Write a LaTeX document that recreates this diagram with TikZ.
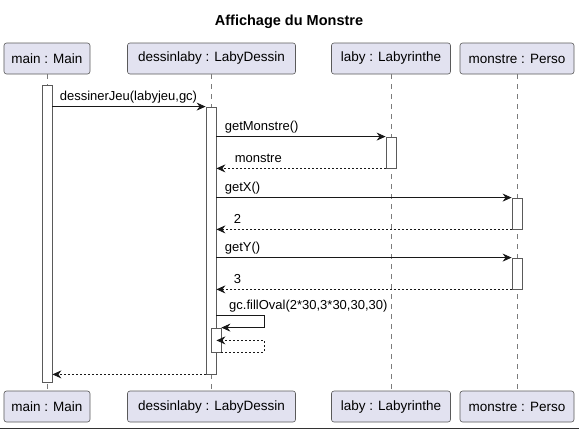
\documentclass[tikz,border=0pt]{standalone}
\usepackage{fontspec}
\setmainfont{Liberation Sans}
\usepackage{tikz}
\usetikzlibrary{arrows.meta}

\definecolor{partfill}{HTML}{E2E2F0}
\definecolor{partdraw}{HTML}{5A5A5A}
\definecolor{lineclr}{HTML}{181818}

\tikzset{
  part/.style={draw=partdraw, fill=partfill, rounded corners=2.5bp, line width=0.6bp,
    minimum height=31bp, inner sep=0pt, font=\fontsize{13.5bp}{16bp}\selectfont},
  life/.style={draw=partdraw!80, line width=0.6bp, dash pattern=on 5bp off 5bp},
  bar/.style={draw=partdraw, fill=white, line width=0.8bp, minimum width=10bp, inner sep=0pt},
  msg/.style={draw=lineclr, line width=0.8bp, -{Stealth[length=9bp,width=8bp,inset=3bp]}},
  ret/.style={msg, dash pattern=on 2bp off 2bp},
  lbl/.style={font=\fontsize{13bp}{15bp}\selectfont, anchor=base west, inner sep=0pt}
}

\begin{document}
\begin{tikzpicture}[x=1bp, y=-1bp]
  \useasboundingbox (0,0) rectangle (579,429);
  \node[font=\bfseries\fontsize{14.5bp}{17bp}\selectfont] (title) at (289,22) {Affichage du Monstre};

  % participants, top and bottom
  \node[part, minimum width=86bp]  (mainT) at (47,58.5)   {main : Main};
  \node[part, minimum width=168bp] (dessT) at (211.5,58.5) {dessinlaby : LabyDessin};
  \node[part, minimum width=119bp] (labyT) at (391,58.5)  {laby : Labyrinthe};
  \node[part, minimum width=114bp] (monsT) at (517,58.5)  {monstre : Perso};
  \node[part, minimum width=86bp]  (mainB) at (47,406.5)   {main : Main};
  \node[part, minimum width=168bp] (dessB) at (211.5,406.5) {dessinlaby : LabyDessin};
  \node[part, minimum width=119bp] (labyB) at (391,406.5)  {laby : Labyrinthe};
  \node[part, minimum width=114bp] (monsB) at (517,406.5)  {monstre : Perso};

  \draw[life] (mainT.south) -- (mainB.north);
  \draw[life] (dessT.south -| 211,0) -- (dessB.north -| 211,0);
  \draw[life] (labyT.south) -- (labyB.north);
  \draw[life] (monsT.south) -- (monsB.north);

  % activations
  \node[bar, minimum height=297bp] (mainA) at (47,233.5) {};
  \node[bar, minimum height=267bp] (dessA) at (211,240.5) {};
  \node[bar, minimum height=31bp]  (labyA) at (391,152.5) {};
  \node[bar, minimum height=31bp]  (monsX) at (517,213.5) {};
  \node[bar, minimum height=31bp]  (monsY) at (517,273.5) {};
  \node[bar, minimum height=24bp]  (dessN) at (216,340) {};
  \coordinate (ovS) at (216,315);
  \coordinate (ovR) at (264,0);

  \path
  (mainA.east |- dessA.north) edge[msg] node [lbl, pos=0, xshift=7bp, yshift=6bp] {dessinerJeu(labyjeu,gc)} (dessA.north west)
  (dessA.east |- labyA.north) edge[msg] node [lbl, pos=0, xshift=8bp, yshift=6bp] {getMonstre()} (labyA.north west)
  (dessA.east |- monsX.north) edge[msg] node [lbl, pos=0, xshift=8bp, yshift=6bp] {getX()} (monsX.north west)
  (dessA.east |- monsY.north) edge[msg] node [lbl, pos=0, xshift=8bp, yshift=6bp] {getY()} (monsY.north west)
  (labyA.south west) edge[ret] node [lbl, pos=1, xshift=18bp, yshift=6bp] {monstre} (dessA.east |- labyA.south)
  (monsX.south west) edge[ret] node [lbl, pos=1, xshift=17bp, yshift=6bp] {2} (dessA.east |- monsX.south)
  (monsY.south west) edge[ret] node [lbl, pos=1, xshift=17bp, yshift=6bp] {3} (dessA.east |- monsY.south)
  (dessA.south west) edge[ret] (mainA.east |- dessA.south)
  ;

  % self call
  \draw[msg] (ovS) -- (ovS -| ovR) |- (dessN.north east);
  \node[lbl] (ovL) at (229,309) {gc.fillOval(2*30,3*30,30,30)};
  \draw[ret] (dessN.south east) -- (dessN.south -| ovR) -- ([yshift=12bp]dessN.south -| ovR) -- ([yshift=12bp]dessN.south -| dessA.east);

  \draw[draw=black!80, line width=1.5bp] (0,428.5) -- (579,428.5);
\end{tikzpicture}
\end{document}
